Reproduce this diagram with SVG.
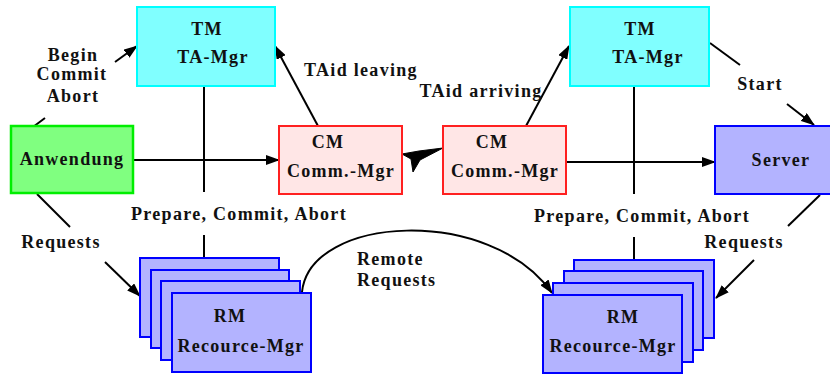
<svg xmlns="http://www.w3.org/2000/svg" width="830" height="376" viewBox="0 0 830 376">
<style>
text{font-family:"Liberation Serif","DejaVu Serif","Times New Roman",serif;font-weight:bold;font-size:18px;letter-spacing:1.3px;fill:#111;text-anchor:middle}
.tm{fill:#80ffff;stroke:#00ffff;stroke-width:2}
.app{fill:#80ff80;stroke:#00ee00;stroke-width:2.5}
.cm{fill:#ffe6e6;stroke:#ff2020;stroke-width:2}
.bl{fill:#b3b3ff;stroke:#0000ff;stroke-width:2}
.ln{stroke:#000;stroke-width:2;fill:none}
.fat{fill:#000;stroke:#000;stroke-width:1}
</style>
<defs>
<marker id="ah" markerWidth="14" markerHeight="10" refX="13" refY="5" orient="auto" markerUnits="userSpaceOnUse"><path d="M0,0 L14,5 L0,10 z" fill="#000"/></marker>
</defs>
<rect width="830" height="376" fill="#fff"/>

<g id="connectors">
<line class="ln" x1="133" y1="160" x2="279" y2="160" marker-end="url(#ah)"/>
<line class="ln" x1="566" y1="162" x2="715" y2="162" marker-end="url(#ah)"/>
<line class="ln" x1="204" y1="86" x2="204" y2="192"/>
<line class="ln" x1="204" y1="235" x2="204" y2="281" marker-end="url(#ah)"/>
<line class="ln" x1="634" y1="86" x2="634" y2="194"/>
<line class="ln" x1="634" y1="237" x2="634" y2="283" marker-end="url(#ah)"/>
<line class="ln" x1="318" y1="126" x2="275" y2="46" marker-end="url(#ah)"/>
<line class="ln" x1="526" y1="126" x2="569" y2="46" marker-end="url(#ah)"/>
<line class="ln" x1="33" y1="127" x2="45" y2="118"/>
<line class="ln" x1="115" y1="62" x2="137" y2="46" marker-end="url(#ah)"/>
<line class="ln" x1="710" y1="43" x2="740" y2="65"/>
<line class="ln" x1="787" y1="104" x2="814" y2="125" marker-end="url(#ah)"/>
<line class="ln" x1="37" y1="194" x2="70" y2="227"/>
<line class="ln" x1="105" y1="262" x2="140" y2="296" marker-end="url(#ah)"/>
<line class="ln" x1="820" y1="195" x2="788" y2="226"/>
<line class="ln" x1="754" y1="260" x2="716" y2="298" marker-end="url(#ah)"/>
<path class="ln" d="M302,292 C310,215 490,205 552,293" marker-end="url(#ah)"/>
<path class="fat" d="M402,154 L419,151 L443,148 L420,160 L413,172 L411,159 Z"/>
<text x="73" y="61">Begin</text>
<text x="72" y="80">Commit</text>
<text x="73" y="102">Abort</text>
<text x="361" y="76">TAid leaving</text>
<text x="481" y="97">TAid arriving</text>
<text x="760" y="90">Start</text>
<text x="239" y="220">Prepare, Commit, Abort</text>
<text x="642" y="222">Prepare, Commit, Abort</text>
<text x="61" y="248">Requests</text>
<text x="744" y="248">Requests</text>
<text x="357" y="265" style="text-anchor:start">Remote</text>
<text x="357" y="286" style="text-anchor:start">Requests</text>
</g>

<g id="tm-left">
<rect class="tm" x="137" y="7" width="138" height="79"/>
<text x="207" y="35">TM</text>
<text x="213" y="63">TA-Mgr</text>
</g>
<g id="tm-right">
<rect class="tm" x="570" y="7" width="139" height="79"/>
<text x="640" y="35">TM</text>
<text x="648" y="63">TA-Mgr</text>
</g>
<g id="anwendung">
<rect class="app" x="11" y="126" width="122" height="67"/>
<text x="72" y="165">Anwendung</text>
</g>
<g id="cm-left">
<rect class="cm" x="279" y="126" width="123" height="68"/>
<text x="328" y="148">CM</text>
<text x="341" y="177">Comm.-Mgr</text>
</g>
<g id="cm-right">
<rect class="cm" x="443" y="126" width="123" height="68"/>
<text x="492" y="148">CM</text>
<text x="505" y="177">Comm.-Mgr</text>
</g>
<g id="server">
<rect class="bl" x="715" y="126" width="125" height="68"/>
<text x="781" y="166">Server</text>
</g>
<g id="rm-left">
<rect class="bl" x="140" y="258" width="139" height="79"/>
<rect class="bl" x="151" y="270" width="138" height="78"/>
<rect class="bl" x="161" y="281" width="139" height="79"/>
<rect class="bl" x="172" y="293" width="139" height="79"/>
<text x="230" y="322">RM</text>
<text x="241" y="352">Recource-Mgr</text>
</g>
<g id="rm-right">
<rect class="bl" x="574" y="260" width="140" height="78"/>
<rect class="bl" x="564" y="271" width="139" height="79"/>
<rect class="bl" x="553" y="283" width="140" height="79"/>
<rect class="bl" x="543" y="295" width="139" height="78"/>
<text x="623" y="323">RM</text>
<text x="613" y="352">Recource-Mgr</text>
</g>
</svg>
